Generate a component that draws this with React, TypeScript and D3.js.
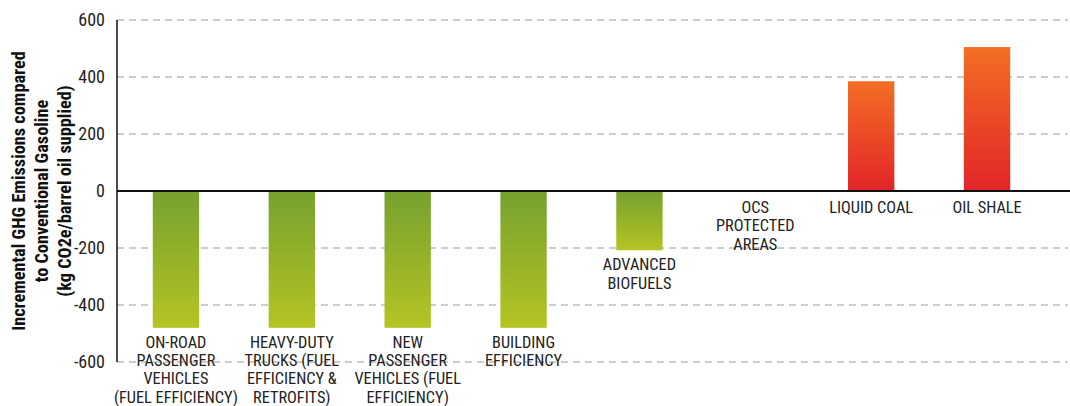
import React from "react";
import * as d3 from "d3";

const categories: string[][] = [
  ["ON-ROAD", "PASSENGER", "VEHICLES", "(FUEL EFFICIENCY)"],
  ["HEAVY-DUTY", "TRUCKS (FUEL", "EFFICIENCY &", "RETROFITS)"],
  ["NEW", "PASSENGER", "VEHICLES (FUEL", "EFFICIENCY)"],
  ["BUILDING", "EFFICIENCY"],
  ["ADVANCED", "BIOFUELS"],
  ["OCS", "PROTECTED", "AREAS"],
  ["LIQUID COAL"],
  ["OIL SHALE"],
];
const values: number[] = [-480, -480, -480, -480, -208, 0, 385, 505];
const yTicks: number[] = [600, 400, 200, 0, -200, -400, -600];
const yTitle: string[] = [
  "Incremental GHG Emissions compared",
  "to Conventional Gasoline",
  "(kg CO2e/barrel oil supplied)",
];

const W = 1070;
const H = 406;
const FONT = "'Liberation Sans Narrow', 'Arial Narrow', 'Roboto Condensed', Roboto, sans-serif";

export default function App() {
  const left = 117;
  const y = d3.scaleLinear().domain([-600, 600]).range([362, 20]);
  const x = d3
    .scaleBand<number>()
    .domain(d3.range(values.length))
    .range([118, 1045])
    .paddingInner(0.6)
    .paddingOuter(0.3);
  const lineH = 18.3;

  return (
    <svg
      width={W}
      height={H}
      style={{ position: "absolute", left: 0, top: 0, background: "#fff" }}
      fontFamily={FONT}
    >
      <defs>
        <linearGradient id="gGreen" x1="0" y1="0" x2="0" y2="1">
          <stop offset="0%" stopColor="#76a12f" />
          <stop offset="100%" stopColor="#b5c423" />
        </linearGradient>
        <linearGradient id="gRed" x1="0" y1="0" x2="0" y2="1">
          <stop offset="0%" stopColor="#f36e24" />
          <stop offset="100%" stopColor="#e22528" />
        </linearGradient>
      </defs>

      {yTicks
        .filter((t) => t !== 0)
        .map((t) => (
          <line
            key={"g" + t}
            x1={left}
            x2={1068}
            y1={y(t)}
            y2={y(t)}
            stroke="#9a9a9a"
            strokeWidth={1.2}
            strokeDasharray="7 5"
          />
        ))}

      {yTicks.map((t) => (
        <text
          key={"t" + t}
          x={105}
          y={y(t)}
          dy="0.35em"
          textAnchor="end"
          fontSize={18}
          fill="#222"
        >
          {t}
        </text>
      ))}

      {values.map((v, i) => (
        <rect
          key={"b" + i}
          x={x(i)!}
          width={x.bandwidth()}
          y={Math.min(y(v), y(0))}
          height={Math.abs(y(v) - y(0))}
          fill={v < 0 ? "url(#gGreen)" : "url(#gRed)"}
        />
      ))}

      <line x1={left} x2={left} y1={y(600)} y2={y(-600)} stroke="#111" strokeWidth={1.5} />
      <line x1={left} x2={W} y1={y(0)} y2={y(0)} stroke="#111" strokeWidth={2.2} />

      {categories.map((lines, i) => {
        const cx = x(i)! + x.bandwidth() / 2;
        const v = values[i];
        const top = v < 0 ? y(v) + 20 : y(0) + 22;
        return (
          <text key={"c" + i} textAnchor="middle" fontSize={16.3} fill="#222">
            {lines.map((l, j) => (
              <tspan key={j} x={cx} y={top + j * lineH}>
                {l}
              </tspan>
            ))}
          </text>
        );
      })}

      <text
        transform={`translate(25, ${y(0)}) rotate(-90)`}
        textAnchor="middle"
        fontSize={18.3}
        fontWeight="bold"
        fill="#111"
      >
        {yTitle.map((l, j) => (
          <tspan key={j} x={0} y={j * 23}>
            {l}
          </tspan>
        ))}
      </text>
    </svg>
  );
}
